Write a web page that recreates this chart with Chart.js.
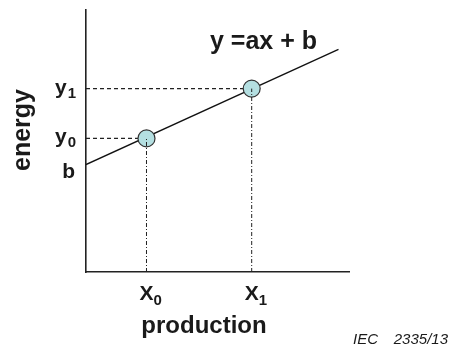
<!DOCTYPE html>
<html>
<head>
<meta charset="utf-8">
<script src="https://cdn.jsdelivr.net/npm/chart.js@4"></script>
<style>
  html, body { margin: 0; padding: 0; background: #fff; }
  #wrap { width: 450px; height: 347px; position: relative; }
</style>
</head>
<body>
<div id="wrap"><canvas id="chart"></canvas></div>
<script>
// fitted line y = ax + b, drawn between its two end points
const lineX = [0, 9.6];
const lineY = [4.1, 8.5];

// the two marked points (x0, y0) and (x1, y1)
const pointX = [2.3, 6.3];
const pointY = [5.1, 7.0];

// tick labels (base letter + subscript)
const xTickValues = [2.3, 6.3];
const xTickBase = ['X', 'X'];
const xTickSub = ['0', '1'];
const yTickValues = [4.1, 5.1, 7.0];
const yTickBase = ['b', 'y', 'y'];
const yTickSub = ['', '0', '1'];

const xTitle = 'production';
const yTitle = 'energy';
const equation = 'y =ax + b';
const figRef = ['IEC', '2335/13'];

const FONT = '"Liberation Sans", Arial, Helvetica, sans-serif';

// dashed guides from the points to the axes
const hGuides = pointX.map((x, i) => ({
  data: [{ x: 0, y: pointY[i] }, { x: x, y: pointY[i] }],
  borderColor: '#222',
  borderWidth: 1.2,
  borderDash: [4, 3],
  pointRadius: 0,
  order: 4
}));
const vGuides = pointX.map((x, i) => ({
  data: [{ x: x, y: 0 }, { x: x, y: pointY[i] }],
  borderColor: '#222',
  borderWidth: 1,
  borderDash: [4, 2, 1, 2],
  pointRadius: 0,
  order: 1
}));

const labelsPlugin = {
  id: 'labels',
  afterDraw(chart) {
    const ctx = chart.ctx;
    const xs = chart.scales.x;
    const ys = chart.scales.y;
    const area = chart.chartArea;
    ctx.save();
    ctx.fillStyle = '#1a1a1a';

    // y tick labels, right aligned
    yTickValues.forEach((v, i) => {
      const py = ys.getPixelForValue(v);
      const base = i === 0 ? py + 13 : py + 5;
      ctx.font = 'bold 15px ' + FONT;
      const subW = yTickSub[i] ? ctx.measureText(yTickSub[i]).width : 0;
      const right = area.left - 10;
      ctx.textAlign = 'left';
      ctx.textBaseline = 'alphabetic';
      if (yTickSub[i]) ctx.fillText(yTickSub[i], right - subW, base + 4);
      ctx.font = 'bold 21px ' + FONT;
      const w = ctx.measureText(yTickBase[i]).width;
      ctx.fillText(yTickBase[i], right - subW - w - 1, base);
    });

    // x tick labels, base letter centred on value
    xTickValues.forEach((v, i) => {
      const px = xs.getPixelForValue(v);
      ctx.font = 'bold 21px ' + FONT;
      const w = ctx.measureText(xTickBase[i]).width;
      ctx.textAlign = 'left';
      ctx.fillText(xTickBase[i], px - w / 2, area.bottom + 28);
      ctx.font = 'bold 15px ' + FONT;
      ctx.fillText(xTickSub[i], px + w / 2, area.bottom + 33);
    });

    // axis titles
    ctx.font = 'bold 24px ' + FONT;
    ctx.textAlign = 'center';
    ctx.fillText(xTitle, 204, area.bottom + 61);
    ctx.save();
    ctx.translate(30, 130);
    ctx.rotate(-Math.PI / 2);
    ctx.font = 'bold 25px ' + FONT;
    ctx.fillText(yTitle, 0, 0);
    ctx.restore();

    // equation
    ctx.font = 'bold 25px ' + FONT;
    ctx.textAlign = 'left';
    ctx.fillText(equation, 210, 49);

    // figure reference
    ctx.font = 'italic 15px ' + FONT;
    ctx.fillText(figRef[0], 353, 344);
    ctx.textAlign = 'right';
    ctx.fillText(figRef[1], 448, 344);
    ctx.restore();
  }
};

new Chart(document.getElementById('chart'), {
  type: 'line',
  data: {
    datasets: [
      ...vGuides,
      {
        data: pointX.map((x, i) => ({ x: x, y: pointY[i] })),
        showLine: false,
        pointRadius: 8.5,
        pointBackgroundColor: '#b4dfe1',
        pointBorderColor: '#333',
        pointBorderWidth: 1.2,
        order: 2
      },
      {
        data: lineX.map((x, i) => ({ x: x, y: lineY[i] })),
        borderColor: '#111',
        borderWidth: 1.3,
        pointRadius: 0,
        order: 3
      },
      ...hGuides
    ]
  },
  options: {
    responsive: true,
    maintainAspectRatio: false,
    animation: false,
    events: [],
    layout: { padding: { left: 86, right: 101, top: 10, bottom: 75 } },
    plugins: { legend: { display: false }, tooltip: { enabled: false } },
    scales: {
      x: {
        type: 'linear',
        min: 0,
        max: 10,
        grid: { display: false, drawTicks: false },
        border: { display: true, color: '#222', width: 1.6 },
        ticks: { display: false }
      },
      y: {
        type: 'linear',
        min: 0,
        max: 10,
        grid: { display: false, drawTicks: false },
        border: { display: true, color: '#222', width: 1.6 },
        ticks: { display: false }
      }
    }
  },
  plugins: [labelsPlugin]
});
</script>
</body>
</html>
